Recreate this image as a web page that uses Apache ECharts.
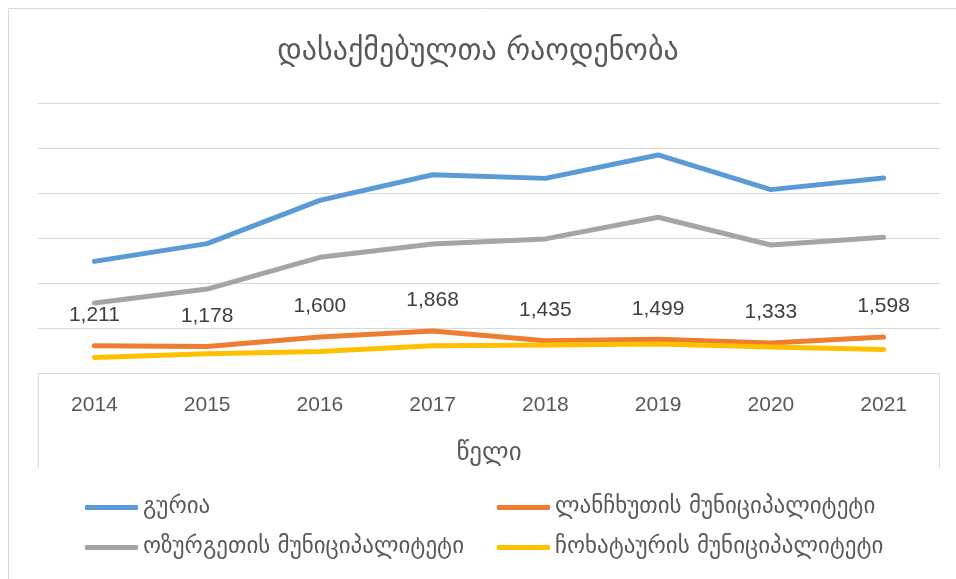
<!DOCTYPE html>
<html><head><meta charset="utf-8">
<script src="https://cdn.jsdelivr.net/npm/echarts@6/dist/echarts.min.js"></script>
<style>html,body{margin:0;padding:0;background:#fff}#c{width:956px;height:579px}</style>
</head><body><div id="c"></div>
<script>
const years = ['2014','2015','2016','2017','2018','2019','2020','2021'];
const guria = [4960, 5750, 7670, 8810, 8650, 9690, 8150, 8670];
const lanchkhuti = [1211, 1178, 1600, 1868, 1435, 1499, 1333, 1598];
const ozurgeti = [3110, 3730, 5140, 5730, 5960, 6920, 5690, 6030];
const chokhatauri = [690, 860, 960, 1210, 1240, 1290, 1160, 1040];
const seriesNames = ['გურია','ლანჩხუთის მუნიციპალიტეტი','ოზურგეთის მუნიციპალიტეტი','ჩოხატაურის მუნიციპალიტეტი'];
const colors = ['#5b9bd5','#ed7d31','#a5a5a5','#ffc000'];
const FONT = '"Liberation Sans", "DejaVu Sans", sans-serif';
const GEO = '"DejaVu Sans", sans-serif';
const chart = echarts.init(document.getElementById('c'));
const dataSets = [guria, lanchkhuti, ozurgeti, chokhatauri];
const legendPos = [[85,496],[497,496],[85,536],[497,536]];
chart.setOption({
  animation:false,
  backgroundColor:'#fff',
  title:{text:'დასაქმებულთა რაოდენობა',left:'center',top:32,textStyle:{fontFamily:GEO,fontSize:30,fontWeight:'normal',color:'#595959'}},
  grid:{left:38,right:16,top:103,bottom:206},
  legend: seriesNames.map((n,i)=>({data:[n],left:legendPos[i][0],top:legendPos[i][1],padding:0,icon:'roundRect',itemWidth:53,itemHeight:5,textStyle:{fontFamily:GEO,fontSize:23,color:'#595959'}})),
  xAxis:{type:'category',data:years,axisLine:{show:false},axisTick:{show:false},
    axisLabel:{color:'#595959',fontSize:21,fontFamily:FONT,margin:22},
    name:'წელი',nameLocation:'middle',nameGap:68,nameTextStyle:{fontFamily:GEO,fontSize:25,color:'#595959'}},
  yAxis:{type:'value',min:0,max:12000,interval:2000,axisLabel:{show:false},axisLine:{show:false},axisTick:{show:false},
    splitLine:{lineStyle:{color:'#d9d9d9',width:1}}},
  graphic:[
    {type:'polyline',shape:{points:[[38.5,468],[38.5,373.5],[939.5,373.5],[939.5,468]]},style:{stroke:'#d9d9d9',fill:null,lineWidth:1},z:0},
    {type:'polyline',shape:{points:[[8.5,579],[8.5,8.5],[956,8.5]]},style:{stroke:'#d9d9d9',fill:null,lineWidth:1},z:0}
  ],
  series: seriesNames.map((n,i)=>({
    name:n,type:'line',data:dataSets[i],showSymbol:true,symbol:'circle',symbolSize:0.01,
    lineStyle:{color:colors[i],width:5,cap:'round',join:'round'},itemStyle:{color:colors[i]},
    label: i===1 ? {show:true,position:'top',distance:20,fontFamily:FONT,fontSize:21,color:'#404040',
      formatter:p=>p.value.toLocaleString('en-US')} : {show:false},
    labelLayout:{hideOverlap:false},
    z:2+i
  }))
});
</script></body></html>
